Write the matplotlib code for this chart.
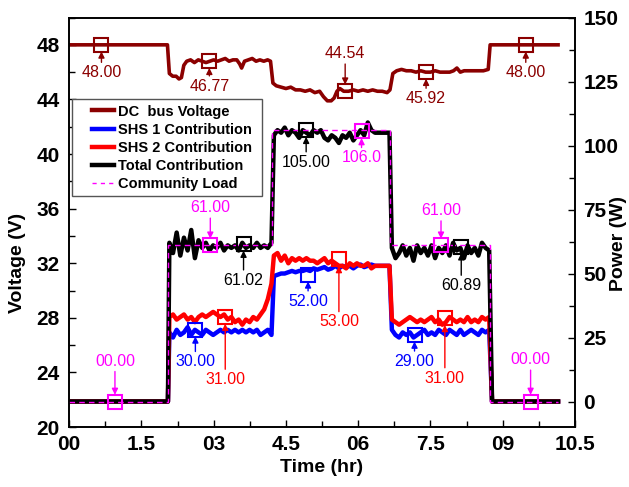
import numpy as np
import matplotlib
matplotlib.use('Agg')
import matplotlib.pyplot as plt
from matplotlib.lines import Line2D
from matplotlib.legend_handler import HandlerLine2D
from matplotlib.ticker import MultipleLocator

plt.rcParams['font.family'] = ['Liberation Sans', 'DejaVu Sans']

MAROON = '#8B0000'
BLUE = '#0000FF'
RED = '#FF0000'
MAGENTA = '#FF00FF'

# DC bus voltage (V) vs time (hr)
t_dc = [0.00, 2.04, 2.08, 2.15, 2.22, 2.28, 2.33, 2.38, 2.44, 2.52, 2.60, 2.68, 2.76, 2.84,
        2.92, 3.00, 3.08, 3.16, 3.24, 3.32, 3.40, 3.48, 3.54, 3.58, 3.64, 3.72, 3.80, 3.88,
        3.96, 4.04, 4.12, 4.18, 4.23, 4.30, 4.40, 4.50, 4.60, 4.70, 4.80, 4.90, 5.00, 5.10,
        5.20, 5.28, 5.36, 5.44, 5.50, 5.56, 5.62, 5.70, 5.80, 5.90, 6.00, 6.10, 6.20, 6.30,
        6.40, 6.50, 6.60, 6.66, 6.72, 6.80, 6.90, 7.00, 7.10, 7.20, 7.30, 7.40, 7.50, 7.60,
        7.70, 7.80, 7.90, 7.98, 8.05, 8.12, 8.20, 8.30, 8.40, 8.50, 8.60, 8.70, 8.74, 10.15]
v_dc = [48.0, 48.0, 45.9, 45.7, 45.7, 45.5, 45.6, 46.5, 46.8, 46.9, 46.7, 46.9, 46.8, 46.7,
        46.8, 46.9, 46.8, 46.9, 47.0, 46.8, 46.9, 46.9, 46.6, 46.3, 46.8, 46.9, 47.0, 46.8,
        46.9, 46.8, 46.9, 46.8, 45.2, 45.0, 44.9, 44.8, 44.9, 44.7, 44.7, 44.6, 44.7, 44.5,
        44.6, 44.2, 43.9, 43.9, 44.1, 44.6, 44.8, 44.6, 44.6, 44.7, 44.6, 44.7, 44.6, 44.7,
        44.6, 44.6, 44.5, 44.7, 45.9, 46.1, 46.2, 46.1, 46.1, 46.0, 46.1, 46.0, 46.0, 46.1,
        46.0, 46.0, 46.0, 46.1, 46.3, 46.0, 46.1, 46.1, 46.1, 46.1, 46.1, 46.2, 48.0, 48.0]

# power sampling during the three load periods (hr)
t_on1 = np.linspace(2.08, 4.20, 29)
t_on2 = np.linspace(4.25, 6.65, 33)
t_on3 = np.linspace(6.70, 8.72, 28)
t_off_start = [0.00, 2.05]
t_off_end = [8.78, 10.15]

shs1_p1 = [27, 25, 28, 26, 27, 29, 26, 28, 27, 26, 28, 27, 26, 27, 28,
           27, 28, 27, 28, 27, 28, 27, 28, 27, 28, 26, 27, 28, 26]
shs1_p2 = [49, 49.5, 50, 50, 50.5, 51, 50.5, 51, 51, 51.5, 51, 52, 51.5, 52, 52.5, 51.5, 52,
           53, 52, 53, 52.5, 53, 52, 53, 53.5, 52.5, 53, 53.5, 53, 53, 53, 53, 53]
shs1_p3 = [28, 26, 25, 27, 26, 27, 25, 26, 27, 28, 26, 27, 26, 28, 27, 26, 28, 27, 26, 28,
           26, 27, 28, 27, 26, 28, 27, 28]

shs2_p1 = [33, 34, 32, 33, 34, 32, 33, 31, 33, 34, 33, 34, 35, 34, 33,
           34, 32, 33, 31, 32, 30, 32, 31, 33, 32, 34, 36, 40, 46]
shs2_p2 = [57, 58, 55, 57, 54, 56, 55, 56, 55, 56, 55, 55, 54, 55, 56, 54, 55, 54, 53, 53, 52,
           54, 53, 54, 53, 53, 54, 52, 53, 53, 53, 53, 53]
shs2_p3 = [32, 31, 30, 31, 32, 33, 32, 31, 32, 31, 32, 33, 31, 32, 30, 31, 33, 32, 31, 32,
           31, 33, 31, 32, 31, 33, 32, 33]

total_p1 = [62, 58, 66, 57, 64, 59, 67, 56, 63, 60, 62, 59, 61, 60, 62,
            59, 61, 60, 61, 59, 62, 60, 61, 60, 62, 60, 61, 60, 62]
total_p2 = [104, 106, 105, 107, 104, 106, 105, 103, 106, 105, 104, 106, 105, 106, 103, 102,
            104, 103, 101, 104, 103, 105, 102, 104, 106, 104, 109, 106, 105, 105, 105, 105, 105]
total_p3 = [60, 56, 58, 61, 57, 60, 55, 61, 58, 60, 57, 61, 56, 60, 58, 61, 57, 62, 59, 60,
            56, 61, 58, 60, 57, 62, 60, 59]

t_load = [0.00, 2.06, 4.22, 6.66, 8.74, 10.15]
load = [0, 61, 106, 61, 0, 0]

# annotated points: (time, value, label, colour, text offset in points)
dc_marks = [(0.67, 48.0, '48.00', 20), (2.91, 46.8, '46.77', 18), (5.73, 44.6, '44.54', -27),
            (7.41, 46.0, '45.92', 19), (9.48, 48.0, '48.00', 20)]
pw_marks = [(0.95, 0, '00.00', MAGENTA, -29), (2.93, 61, '61.00', MAGENTA, -27),
            (3.62, 61.5, '61.02', 'black', 26), (2.62, 28, '30.00', BLUE, 23),
            (3.24, 33, '31.00', RED, 45), (4.92, 106, '105.00', 'black', 23),
            (6.07, 105.5, '106.0', MAGENTA, 19), (4.96, 49.5, '52.00', BLUE, 19),
            (5.60, 55.5, '53.00', RED, 45), (7.72, 61, '61.00', MAGENTA, -25),
            (8.14, 60.5, '60.89', 'black', 28), (7.17, 26, '29.00', BLUE, 19),
            (7.80, 32.5, '31.00', RED, 43), (9.58, 0, '00.00', MAGENTA, -30)]


class ShortLine(HandlerLine2D):
    # legend line drawn in the right part of the handle box only
    def create_artists(self, legend, orig_handle, xdescent, ydescent, width, height,
                       fontsize, trans):
        arts = super().create_artists(legend, orig_handle, xdescent, ydescent, width,
                                      height, fontsize, trans)
        for a in arts:
            xd = np.asarray(a.get_xdata(), dtype=float)
            if len(xd) >= 2:
                x0 = xd[0] + 0.4 * (xd[-1] - xd[0])
                a.set_xdata(np.linspace(x0, xd[-1], len(xd)))
        return arts


def mark(ax, x, y, text, color, below):
    ax.plot([x], [y], 's', ms=9.5, mfc='none', mec=color, mew=1.5, zorder=8)
    ax.annotate(text, xy=(x, y), xytext=(0, -below), textcoords='offset points',
                ha='center', va='center', color=color, fontsize=11.5, zorder=9,
                arrowprops=dict(arrowstyle='-|>', color=color, lw=1, shrinkA=0,
                                shrinkB=4.8, mutation_scale=9))


def power_series(p1, p2, p3):
    t = np.concatenate([t_off_start, t_on1, t_on2, t_on3, t_off_end])
    v = np.concatenate([[0, 0], p1, p2, p3, [0, 0]])
    return t, v


fig = plt.figure(figsize=(6.29, 4.87), dpi=100)
ax = fig.add_axes([0.110, 0.123, 0.804, 0.841])
ax2 = ax.twinx()

ax.plot(t_dc, v_dc, color=MAROON, lw=2.6, solid_joinstyle='round')
for t_, v_, txt, off in dc_marks:
    mark(ax, t_, v_, txt, MAROON, off)

t1, s1 = power_series(shs1_p1, shs1_p2, shs1_p3)
t2, s2 = power_series(shs2_p1, shs2_p2, shs2_p3)
tt, st = power_series(total_p1, total_p2, total_p3)
ax2.plot(t1, s1, color=BLUE, lw=3.2, solid_joinstyle='round')
ax2.plot(t2, s2, color=RED, lw=3.2, solid_joinstyle='round')
ax2.plot(tt, st, color='black', lw=3.2, solid_joinstyle='round')
ax2.step(t_load, load, where='post', color=MAGENTA, lw=1.0, ls=(0, (4, 3)))
for t_, v_, txt, c, off in pw_marks:
    mark(ax2, t_, v_, txt, c, off)

ax.set_xlim(0, 10.5)
ax.set_ylim(20, 50)
ax2.set_ylim(-10, 150)
ax.set_xticks(np.arange(0, 10.51, 1.5))
ax.set_xticklabels(['00', '1.5', '03', '4.5', '06', '7.5', '09', '10.5'])
ax.xaxis.set_minor_locator(MultipleLocator(0.75))
ax.set_yticks(np.arange(20, 49, 4))
ax.yaxis.set_minor_locator(MultipleLocator(2))
ax2.set_yticks(np.arange(0, 151, 25))
ax2.yaxis.set_minor_locator(MultipleLocator(12.5))

for a in (ax, ax2):
    a.tick_params(which='major', direction='in', length=5, width=1, labelsize=15, pad=6)
    a.tick_params(which='minor', direction='in', length=4, width=1)
    for lbl in a.get_xticklabels() + a.get_yticklabels():
        lbl.set_fontweight('bold')
    for sp in a.spines.values():
        sp.set_linewidth(1.2)
ax.tick_params(axis='y', pad=7)

ax.set_xlabel('Time (hr)', fontsize=14, fontweight='bold', labelpad=3)
ax.set_ylabel('Voltage (V)', fontsize=14, fontweight='bold')
ax2.set_ylabel('Power (W)', fontsize=14, fontweight='bold')
ax.yaxis.set_label_coords(-0.085, 0.40)
ax2.yaxis.set_label_coords(1.070, 0.449)

handles = [Line2D([], [], color=MAROON, lw=3.2),
           Line2D([], [], color=BLUE, lw=3.2),
           Line2D([], [], color=RED, lw=3.2),
           Line2D([], [], color='black', lw=3.2),
           Line2D([], [], color=MAGENTA, lw=1.0, ls=(0, (3, 3)))]
labels = ['DC  bus Voltage', 'SHS 1 Contribution', 'SHS 2 Contribution',
          'Total Contribution', 'Community Load']
leg = ax2.legend(handles, labels, loc='upper left', bbox_to_anchor=(0.006, 0.0, 0.3755, 0.80),
                 mode='expand', prop={'weight': 'bold', 'size': 10.5}, fancybox=False,
                 framealpha=1, edgecolor='#555555', handlelength=2.5, labelspacing=0.28,
                 borderpad=0.35, handletextpad=0.3, borderaxespad=0,
                 handler_map={Line2D: ShortLine()})
leg.get_frame().set_linewidth(1.0)
leg.set_zorder(20)

fig.savefig('out.png', dpi=100)
